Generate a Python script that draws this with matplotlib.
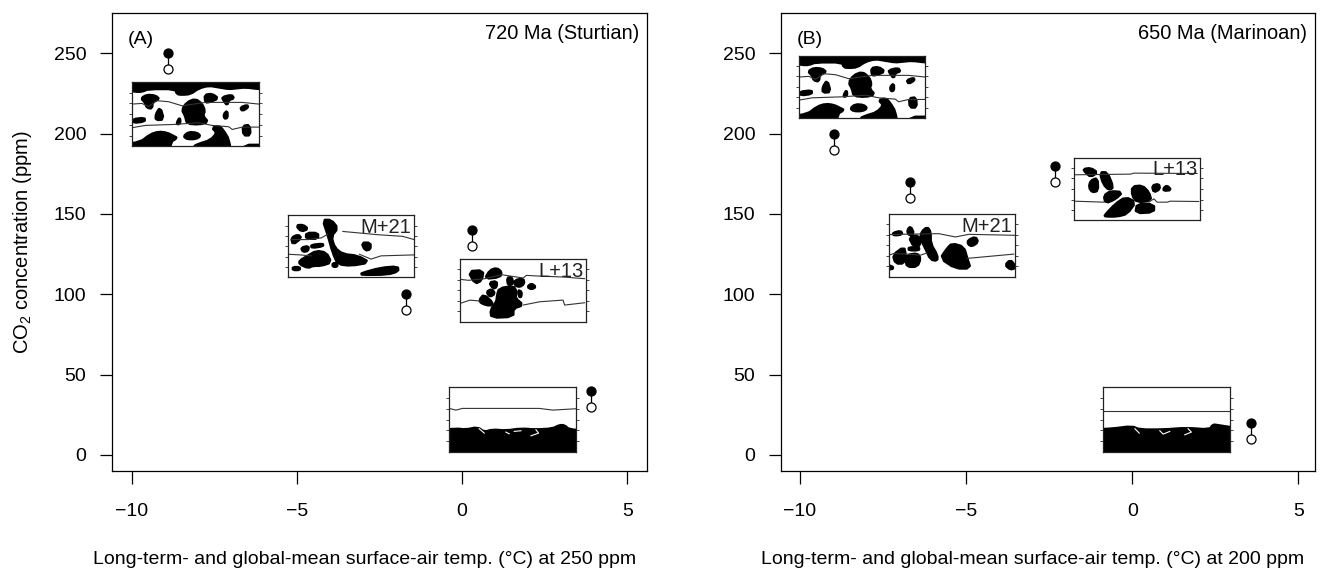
"""Two panel CO2 vs temperature chart with small continent map insets."""
import matplotlib

matplotlib.use("Agg")
import matplotlib.pyplot as plt
from matplotlib.patches import Polygon

plt.rcParams["font.family"] = ["Liberation Sans", "DejaVu Sans"]
plt.rcParams["mathtext.default"] = "regular"

# scatter values, one pair per simulation
temp_a = [-8.9, -1.7, 0.3, 3.9]
co2_hi_a = [250, 100, 140, 40]
co2_lo_a = [240, 90, 130, 30]
temp_b = [-8.98, -6.69, -2.32, 3.58]
co2_hi_b = [200, 170, 180, 20]
co2_lo_b = [190, 160, 170, 10]

xticks = [-10, -5, 0, 5]
yticks = [0, 50, 100, 150, 200, 250]

# map shapes, map units are 380 wide by 190 high, y goes down
land_sturtian = [
    [(-30, -30), (410, -30), (410, 20), (380, 20), (340, 15), (310, 18), (290, 20), (260, 15), (230, 10), (200, 18), (175, 35), (150, 37), (135, 35), (130, 20), (50, 20), (30, 28), (10, 28), (-30, 20)],
    [(-30, 220), (-30, 184), (25, 178), (55, 155), (80, 147), (105, 150), (125, 160), (135, 165), (115, 177), (115, 220)],
    [(155, 160), (170, 148), (195, 150), (205, 160), (190, 168), (165, 168)],
    [(240, 135), (262, 130), (275, 145), (290, 170), (297, 220), (185, 220), (185, 190), (200, 183), (235, 172), (255, 150)],
    [(332, 130), (352, 127), (354, 157), (334, 157)],
    [(330, 220), (330, 186), (410, 186), (410, 220)],
    [(28, 48), (45, 38), (70, 40), (82, 50), (62, 58), (60, 78), (45, 75), (40, 60)],
    [(150, 82), (165, 60), (190, 50), (210, 65), (218, 85), (212, 100), (228, 118), (200, 125), (165, 122), (160, 100)],
    [(218, 38), (240, 35), (258, 48), (235, 58), (220, 60)],
    [(270, 45), (298, 38), (305, 48), (290, 52), (285, 68), (275, 55)],
    [(325, 75), (345, 68), (347, 75), (330, 85)],
    [(275, 95), (285, 85), (286, 105), (277, 108)],
    [(3, 110), (38, 106), (38, 116), (5, 120)],
    [(72, 95), (85, 75), (95, 110), (72, 112)],
    [(135, 120), (143, 105), (145, 120), (137, 125)],
]
lines_sturtian = [
    [(0, 65), (30, 63), (50, 72), (75, 55), (110, 58), (150, 70), (220, 60), (300, 60), (330, 60), (380, 65)],
    [(0, 135), (40, 128), (130, 125), (200, 120), (240, 128), (290, 132), (300, 140), (330, 133), (380, 133)],
]

land_m21_a = [
    [(25, 32), (45, 30), (60, 42), (40, 50)],
    [(105, 15), (130, 15), (150, 40), (130, 65), (140, 100), (165, 120), (210, 125), (245, 145), (190, 155), (150, 150), (135, 115), (120, 60)],
    [(55, 55), (90, 55), (90, 72), (55, 72)],
    [(10, 70), (30, 60), (40, 70), (15, 90)],
    [(40, 100), (62, 95), (60, 110), (45, 112)],
    [(70, 92), (105, 88), (105, 95), (72, 100)],
    [(35, 140), (60, 125), (85, 110), (115, 115), (130, 145), (100, 155), (75, 155), (60, 162), (35, 150)],
    [(15, 160), (35, 160), (35, 168), (15, 168)],
    [(222, 85), (248, 85), (248, 105), (232, 108)],
    [(222, 178), (280, 162), (330, 158), (332, 172), (300, 182), (222, 183)],
    [(135, 148), (148, 148), (148, 158), (135, 158)],
]
lines_m21_a = [
    [(10, 75), (60, 75), (100, 70), (120, 58)],
    [(165, 50), (270, 60), (345, 65), (380, 75)],
    [(0, 120), (35, 122), (70, 125)],
    [(215, 120), (250, 135), (280, 125), (380, 122)],
]

land_l13_a = [
    [(25, 38), (70, 35), (65, 65), (45, 75)],
    [(75, 60), (90, 35), (110, 28), (125, 40), (120, 55)],
    [(88, 72), (110, 68), (110, 85), (100, 90)],
    [(80, 100), (95, 92), (105, 105), (90, 115)],
    [(58, 125), (72, 108), (100, 135), (90, 142), (65, 135)],
    [(142, 58), (155, 55), (160, 75), (145, 80)],
    [(165, 65), (190, 60), (193, 75), (180, 85), (165, 80)],
    [(118, 90), (160, 82), (170, 100), (165, 118), (190, 140), (160, 150), (160, 175), (95, 178), (92, 155), (110, 130), (112, 110)],
    [(175, 95), (185, 100), (184, 115), (178, 115)],
    [(203, 85), (215, 75), (228, 85), (215, 92)],
]
lines_l13_a = [
    [(0, 62), (25, 65), (75, 60), (125, 48), (190, 58), (200, 50), (235, 52), (310, 55), (375, 60)],
    [(0, 135), (30, 125), (60, 128)],
    [(190, 140), (240, 130), (310, 125), (315, 140), (375, 133)],
]

land_ice_a = [
    [(-30, 128), (20, 122), (50, 125), (85, 118), (105, 132), (130, 125), (170, 128), (215, 122), (260, 125), (310, 122), (330, 112), (345, 112), (360, 125), (410, 127), (410, 220), (-30, 220)],
]
lines_ice_a = [[(0, 62), (20, 67), (40, 62), (270, 62), (310, 67), (380, 63)]]
gaps_ice_a = [
    [(90, 122), (105, 135)],
    [(170, 132), (180, 137)],
    [(195, 130), (215, 128)],
    [(245, 143), (268, 135), (260, 125)],
]

land_m21_b = [
    [(12, 58), (35, 52), (40, 62), (15, 65)],
    [(55, 50), (65, 38), (75, 60), (60, 65)],
    [(60, 70), (90, 65), (95, 95), (75, 100)],
    [(98, 55), (115, 40), (125, 55), (125, 90), (145, 125), (145, 142), (125, 138), (110, 105), (95, 75)],
    [(60, 102), (90, 102), (90, 110), (60, 110)],
    [(12, 125), (45, 100), (50, 125), (45, 150), (20, 150)],
    [(55, 125), (85, 120), (95, 135), (85, 160), (55, 160), (50, 140)],
    [(238, 80), (260, 70), (268, 85), (250, 98), (238, 92)],
    [(175, 105), (190, 90), (225, 100), (235, 135), (245, 165), (200, 165), (155, 135)],
    [(-10, 155), (12, 160), (10, 168), (-10, 165)],
    [(350, 155), (365, 140), (378, 155), (378, 165), (365, 168)],
]
lines_m21_b = [
    [(0, 63), (30, 62), (150, 60), (200, 70), (240, 62), (380, 65)],
    [(0, 125), (15, 120), (50, 122), (95, 125), (110, 120)],
    [(235, 135), (375, 122)],
]

land_l13_b = [
    [(28, 35), (50, 32), (70, 45), (50, 58), (35, 45)],
    [(78, 45), (100, 45), (118, 90), (105, 98), (88, 80)],
    [(50, 70), (70, 62), (72, 100), (55, 105), (45, 90)],
    [(90, 115), (110, 102), (145, 105), (125, 125), (95, 138)],
    [(92, 175), (125, 140), (155, 120), (185, 135), (160, 170), (130, 178), (95, 178)],
    [(175, 88), (205, 85), (225, 105), (232, 130), (190, 135), (175, 115)],
    [(190, 140), (240, 142), (240, 165), (185, 168)],
    [(235, 85), (255, 80), (258, 95), (240, 105)],
    [(270, 92), (280, 85), (292, 98), (270, 100)],
]
lines_l13_b = [
    [(0, 52), (170, 50), (180, 47), (370, 48)],
    [(0, 132), (90, 135)],
    [(225, 135), (240, 125), (250, 135), (280, 135), (290, 132), (375, 133)],
]

land_ice_b = [
    [(-30, 125), (30, 122), (85, 115), (110, 125), (180, 125), (250, 120), (320, 125), (330, 110), (345, 112), (410, 122), (410, 220), (-30, 220)],
]
lines_ice_b = [[(0, 70), (100, 70), (380, 70)]]
gaps_ice_b = [
    [(95, 122), (108, 135)],
    [(170, 128), (180, 138), (200, 130)],
    [(245, 140), (265, 132), (255, 122)],
]

# inset extents in data units: x0, y0, width, height
box_a = [(-10.0, 192, 3.85, 40), (-5.27, 110.7, 3.82, 38.5), (-0.06, 83, 3.82, 39), (-0.39, 2, 3.84, 40)]
box_b = [(-10.03, 209.5, 3.8, 39), (-7.32, 111, 3.8, 39), (-1.75, 146, 3.8, 39), (-0.87, 2, 3.8, 40)]


def smooth(pts):
    # one round of corner cutting so the continents look like blobs
    out = []
    for i, (x0, y0) in enumerate(pts):
        x1, y1 = pts[(i + 1) % len(pts)]
        out.append((0.75 * x0 + 0.25 * x1, 0.75 * y0 + 0.25 * y1))
        out.append((0.25 * x0 + 0.75 * x1, 0.25 * y0 + 0.75 * y1))
    return out


def draw_map(ax, box, land, lines, label=None, gaps=()):
    m = ax.inset_axes(box, transform=ax.transData, zorder=3)
    m.set_xlim(0, 380)
    m.set_ylim(190, 0)
    for shape in land:
        m.add_patch(Polygon(smooth(shape), closed=True, fc="black", ec="black", lw=2.0, joinstyle="round"))
    for ln in lines:
        m.plot([p[0] for p in ln], [p[1] for p in ln], color="#333333", lw=0.8)
    for g in gaps:
        m.plot([p[0] for p in g], [p[1] for p in g], color="white", lw=0.8)
    m.set_xticks([])
    m.set_yticks([32, 63, 95, 127, 158])
    m.set_yticklabels([])
    m.tick_params(axis="y", left=True, right=True, length=2.5, width=0.7, color="#444444")
    for s in m.spines.values():
        s.set_linewidth(0.9)
        s.set_color("#222222")
    if label:
        m.text(371, 8, label, ha="right", va="top", fontsize=14.5, color="#222222")


def draw_points(ax, temp, hi, lo):
    for x, h, l in zip(temp, hi, lo):
        ax.plot([x, x], [h, l], color="black", lw=0.9, zorder=2)
    ax.plot(temp, hi, "o", ms=6.5, mfc="black", mec="black", mew=0.9, ls="none", zorder=4)
    ax.plot(temp, lo, "o", ms=6.5, mfc="white", mec="black", mew=0.9, ls="none", zorder=4)


W, H = 1337, 569
fig = plt.figure(figsize=(W / 100, H / 100), dpi=100)
ax1 = fig.add_axes([112 / W, 1 - 471 / H, 535 / W, 458 / H])
ax2 = fig.add_axes([781 / W, 1 - 471 / H, 534 / W, 458 / H])

for ax in (ax1, ax2):
    ax.set_ylim(-10, 275)
    ax.set_xticks(xticks)
    ax.set_xticklabels(["\u221210", "\u22125", "0", "5"])
    ax.set_yticks(yticks)
    ax.tick_params(length=9, width=0.9, labelsize=14)
    ax.tick_params(axis="x", pad=14)
    ax.tick_params(axis="y", pad=9.5)
    for s in ax.spines.values():
        s.set_linewidth(0.9)
ax1.set_xlim(-10.6, 5.6)
ax2.set_xlim(-10.57, 5.5)

draw_points(ax1, temp_a, co2_hi_a, co2_lo_a)
draw_points(ax2, temp_b, co2_hi_b, co2_lo_b)

draw_map(ax1, box_a[0], land_sturtian, lines_sturtian)
draw_map(ax1, box_a[1], land_m21_a, lines_m21_a, "M+21")
draw_map(ax1, box_a[2], land_l13_a, lines_l13_a, "L+13")
draw_map(ax1, box_a[3], land_ice_a, lines_ice_a, gaps=gaps_ice_a)
draw_map(ax2, box_b[0], land_sturtian, lines_sturtian)
draw_map(ax2, box_b[1], land_m21_b, lines_m21_b, "M+21")
draw_map(ax2, box_b[2], land_l13_b, lines_l13_b, "L+13")
draw_map(ax2, box_b[3], land_ice_b, lines_ice_b, gaps=gaps_ice_b)

ax1.text(0.03, 0.943, "(A)", transform=ax1.transAxes, fontsize=14, va="center")
ax2.text(0.03, 0.943, "(B)", transform=ax2.transAxes, fontsize=14, va="center")
ax1.text(0.985, 0.955, "720 Ma (Sturtian)", transform=ax1.transAxes, fontsize=14.4, ha="right", va="center")
ax2.text(0.985, 0.955, "650 Ma (Marinoan)", transform=ax2.transAxes, fontsize=14.4, ha="right", va="center")

ax1.set_ylabel("$CO_2$ concentration (ppm)", fontsize=14.5, va="center")
ax1.yaxis.set_label_coords(-89 / 535, 0.5)
ax1.set_xlabel("Long-term- and global-mean surface-air temp. (\u00b0C) at 250 ppm", fontsize=14, va="center")
ax2.set_xlabel("Long-term- and global-mean surface-air temp. (\u00b0C) at 200 ppm", fontsize=14, va="center")
ax1.xaxis.set_label_coords((365 - 112) / 535, -89 / 458)
ax2.xaxis.set_label_coords((1033 - 781) / 534, -89 / 458)

plt.savefig("out.png", dpi=100)
